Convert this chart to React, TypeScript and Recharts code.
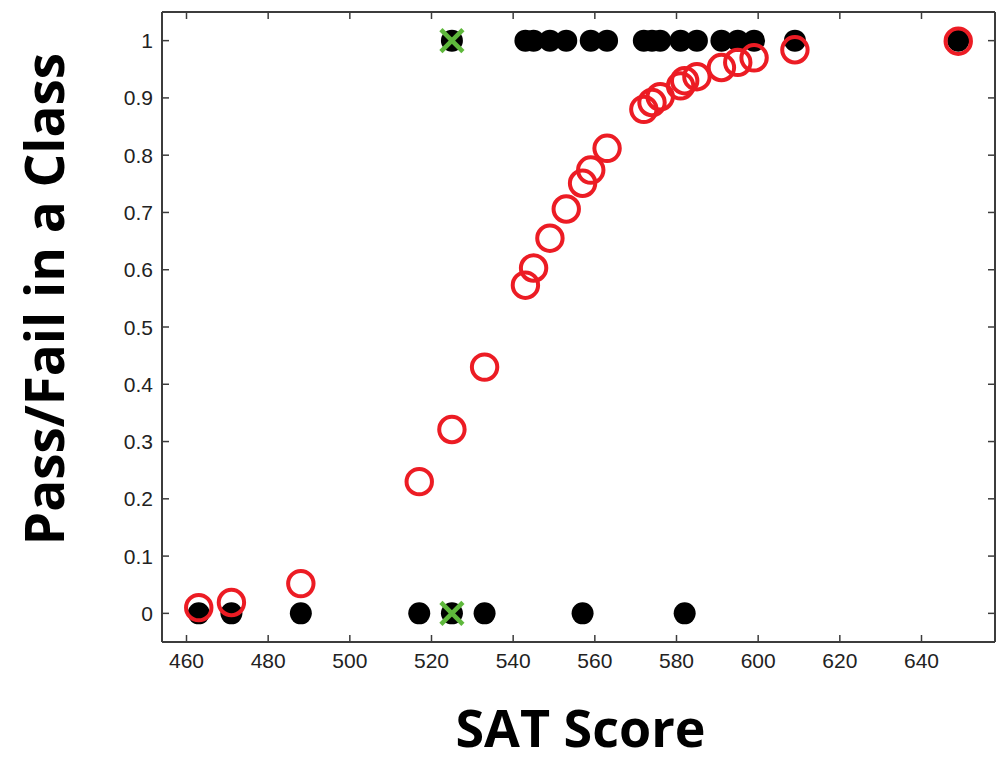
import { ScatterChart, Scatter, XAxis, YAxis, Label } from "recharts"

// SAT scores of students who failed (0) and passed (1)
const failScores = [463, 471, 488, 517, 525, 533, 557, 582]
const passScores = [525, 543, 545, 549, 553, 559, 563, 572, 574, 576, 581, 585, 591, 595, 599, 609, 649]

// logistic fit evaluated at each student's score (red rings)
const fitScores = [463, 471, 488, 517, 525, 533, 543, 545, 549, 553, 557, 559, 563, 572, 574, 576, 581, 582, 585, 591, 595, 599, 609, 649]
const fitProbs = [0.01, 0.019, 0.052, 0.23, 0.321, 0.43, 0.573, 0.603, 0.655, 0.706, 0.751, 0.774, 0.812, 0.88, 0.892, 0.902, 0.921, 0.93, 0.937, 0.953, 0.962, 0.97, 0.984, 0.999]

// same score, both outcomes -> crossed out
const flaggedScores = [525, 525]
const flaggedOutcomes = [0, 1]

const xTicks = [460, 480, 500, 520, 540, 560, 580, 600, 620, 640]
const yTicks = [0, 0.1, 0.2, 0.3, 0.4, 0.5, 0.6, 0.7, 0.8, 0.9, 1]

const X_DOMAIN: [number, number] = [454, 658]
const Y_DOMAIN: [number, number] = [-0.05, 1.05]

const FRAME = "#3c3c3c"
const TICK_LEN = 7
const tickFont = { fontFamily: "'Liberation Sans', Arial, sans-serif", fontSize: 21, fill: "#222" }
const titleFont = { fontFamily: "'Open Sans', sans-serif", fontWeight: 700, fontSize: 52, fill: "#000" }

const outcomeData = [
  ...failScores.map((x) => ({ x, y: 0 })),
  ...passScores.map((x) => ({ x, y: 1 })),
]
const fitData = fitScores.map((x, i) => ({ x, y: fitProbs[i] }))
const flaggedData = flaggedScores.map((x, i) => ({ x, y: flaggedOutcomes[i] }))

function BottomTick({ x, y, payload }: any) {
  return (
    <g>
      <line x1={x} x2={x} y1={y} y2={y - TICK_LEN} stroke={FRAME} strokeWidth={1.5} />
      <text x={x} y={y + 26} textAnchor="middle" {...tickFont}>
        {payload.value}
      </text>
    </g>
  )
}

function TopTick({ x, y }: any) {
  return <line x1={x} x2={x} y1={y} y2={y + TICK_LEN} stroke={FRAME} strokeWidth={1.5} />
}

function LeftTick({ x, y, payload }: any) {
  return (
    <g>
      <line x1={x} x2={x + TICK_LEN} y1={y} y2={y} stroke={FRAME} strokeWidth={1.5} />
      <text x={x - 9} y={y} dy="0.36em" textAnchor="end" {...tickFont}>
        {String(payload.value)}
      </text>
    </g>
  )
}

function RightTick({ x, y }: any) {
  return <line x1={x} x2={x - TICK_LEN} y1={y} y2={y} stroke={FRAME} strokeWidth={1.5} />
}

function XTitle(props: any) {
  const { x, y, width, height } = props.viewBox
  return (
    <text x={x + width / 2 + 2} y={y + height - 15} textAnchor="middle" {...titleFont}>
      SAT Score
    </text>
  )
}

function YTitle(props: any) {
  const { x, y, height } = props.viewBox
  const cx = x + 45
  const cy = y + height / 2 - 28
  return (
    <text x={cx} y={cy} transform={`rotate(-90 ${cx} ${cy})`} textAnchor="middle" dy="0.36em" {...titleFont} fontSize={53}>
      Pass/Fail in a Class
    </text>
  )
}

const BlackDot = (props: any) => <circle cx={props.cx} cy={props.cy} r={11} fill="#000" />
const RedRing = (props: any) => (
  <circle cx={props.cx} cy={props.cy} r={12.7} fill="none" stroke="#ec1c24" strokeWidth={4} />
)
const GreenCross = (props: any) => {
  const { cx, cy } = props
  const d = 11
  return (
    <g stroke="#5fb83c" strokeWidth={4.5}>
      <line x1={cx - d} y1={cy - d} x2={cx + d} y2={cy + d} />
      <line x1={cx - d} y1={cy + d} x2={cx + d} y2={cy - d} />
    </g>
  )
}

export default function App() {
  return (
    <div style={{ position: "absolute", left: 0, top: 0, background: "#fff" }}>
      <ScatterChart width={1002} height={762} margin={{ top: 11, right: 6, bottom: 0, left: 0 }}>
        <XAxis
          xAxisId="bottom"
          type="number"
          dataKey="x"
          domain={X_DOMAIN}
          ticks={xTicks}
          allowDataOverflow
          height={120}
          tickSize={0}
          tickMargin={0}
          tickLine={false}
          axisLine={{ stroke: FRAME, strokeWidth: 2 }}
          tick={<BottomTick />}
        >
          <Label content={<XTitle />} />
        </XAxis>
        <XAxis
          xAxisId="top"
          orientation="top"
          type="number"
          dataKey="x"
          domain={X_DOMAIN}
          ticks={xTicks}
          allowDataOverflow
          height={1}
          tickSize={0}
          tickMargin={0}
          tickLine={false}
          axisLine={{ stroke: FRAME, strokeWidth: 2 }}
          tick={<TopTick />}
        />
        <YAxis
          yAxisId="left"
          type="number"
          dataKey="y"
          domain={Y_DOMAIN}
          ticks={yTicks}
          allowDataOverflow
          width={162}
          tickSize={0}
          tickMargin={0}
          tickLine={false}
          axisLine={{ stroke: FRAME, strokeWidth: 2 }}
          tick={<LeftTick />}
        >
          <Label content={<YTitle />} />
        </YAxis>
        <YAxis
          yAxisId="right"
          orientation="right"
          type="number"
          dataKey="y"
          domain={Y_DOMAIN}
          ticks={yTicks}
          allowDataOverflow
          width={1}
          tickSize={0}
          tickMargin={0}
          tickLine={false}
          axisLine={{ stroke: FRAME, strokeWidth: 2 }}
          tick={<RightTick />}
        />
        <Scatter
          name="outcome"
          data={outcomeData}
          xAxisId="bottom"
          yAxisId="left"
          shape={BlackDot}
          isAnimationActive={false}
        />
        <Scatter
          name="fit"
          data={fitData}
          xAxisId="bottom"
          yAxisId="left"
          shape={RedRing}
          isAnimationActive={false}
        />
        <Scatter
          name="flagged"
          data={flaggedData}
          xAxisId="top"
          yAxisId="right"
          shape={GreenCross}
          isAnimationActive={false}
        />
      </ScatterChart>
    </div>
  )
}
